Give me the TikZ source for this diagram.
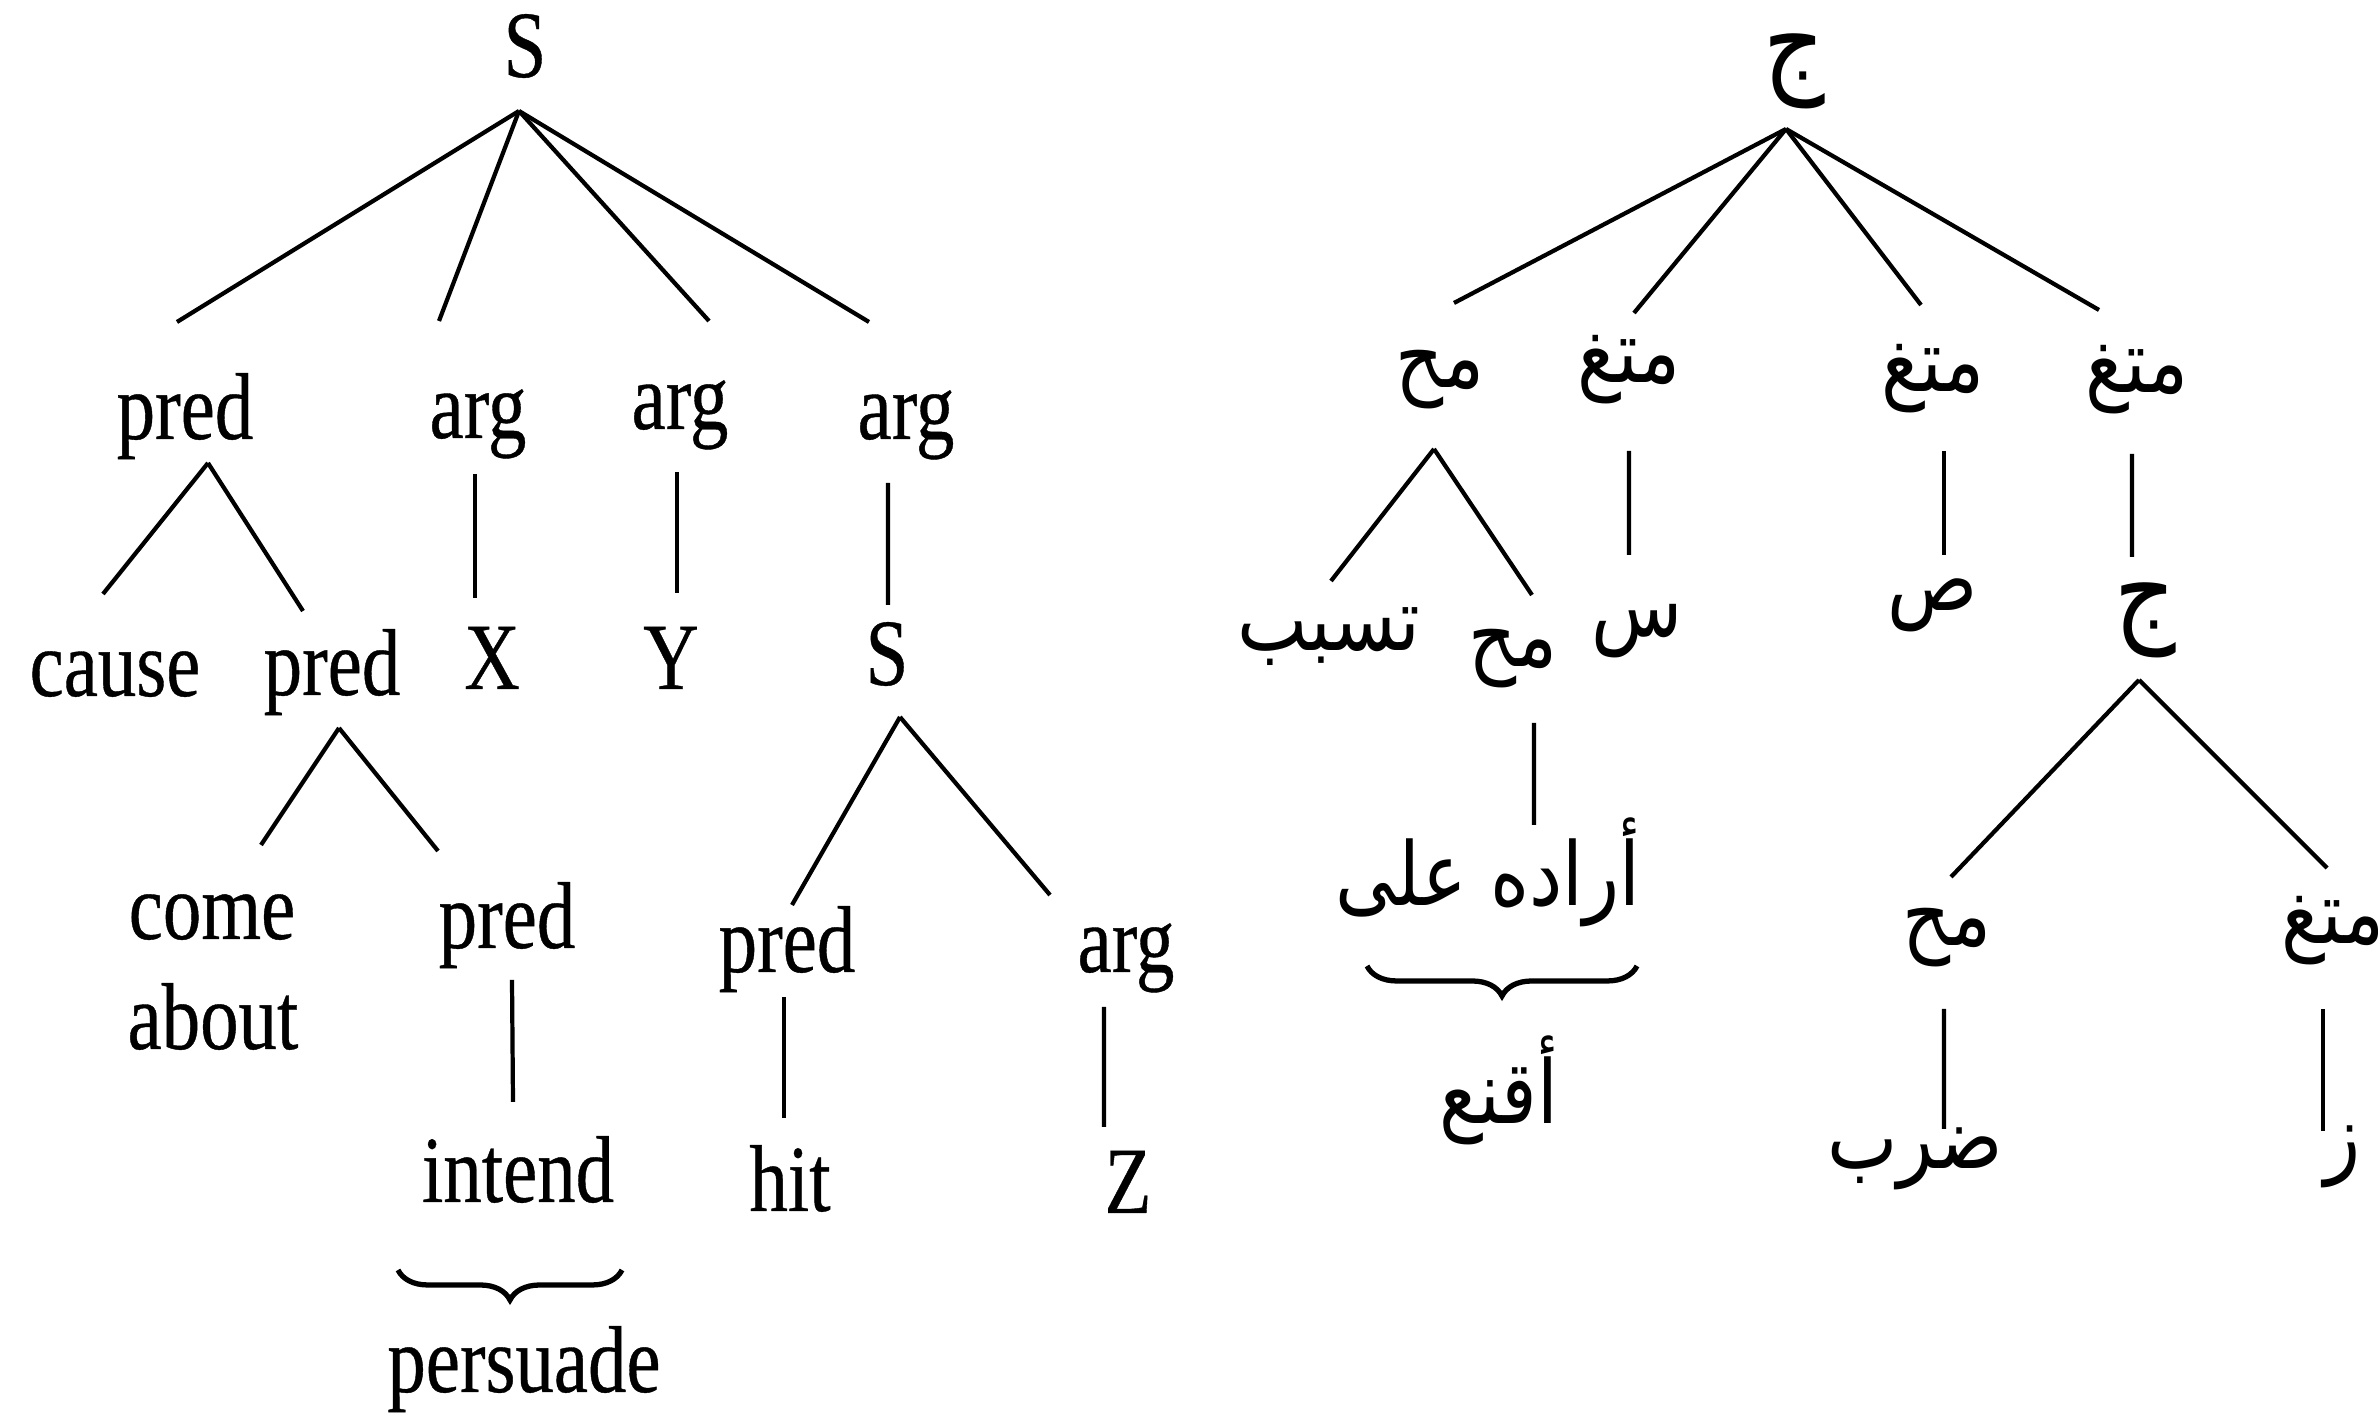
\documentclass[tikz,border=0pt]{standalone}
\usepackage{fontspec}
\setmainfont{Liberation Serif}[FakeStretch=0.81,FakeBold=0.4]
\newfontfamily\arabicfont[Script=Arabic,FakeStretch=0.85]{DejaVu Sans}
\TeXXeTstate=1
\usetikzlibrary{decorations.pathreplacing}
\newcommand{\artxt}[1]{\beginR #1\endR}
\tikzset{
  lbl/.style={anchor=base, inner sep=0pt, font=\fontsize{27pt}{31pt}\selectfont},
  arlbl/.style={inner sep=0pt, font=\fontsize{25pt}{29pt}\selectfont\arabicfont},
  jim/.style={arlbl, font=\fontsize{32pt}{36pt}\selectfont\arabicfont},
  curly/.style={decorate, decoration={brace, mirror, amplitude=3mm}, line width=1.5pt}
}
\begin{document}
\begin{tikzpicture}[line width=1.2pt]
    \useasboundingbox (0,0) rectangle (23.78,14.21);
    % english tree
    \node[lbl] (sroot) at (5.25,13.44) {S};
    \node[lbl] (predA) at (1.85,9.82) {pred};
    \node[lbl] (argA) at (4.78,9.83) {arg};
    \node[lbl] (argB) at (6.80,9.92) {arg};
    \node[lbl] (argC) at (9.06,9.82) {arg};
    \node[lbl] (cause) at (1.15,7.25) {cause};
    \node[lbl] (predB) at (3.32,7.26) {pred};
    \node[lbl] (X) at (4.92,7.32) {X};
    \node[lbl] (Y) at (6.71,7.32) {Y};
    \node[lbl] (sub) at (8.87,7.36) {S};
    \node[lbl] (come) at (2.12,4.82) {come};
    \node[lbl] (about) at (2.13,3.72) {about};
    \node[lbl] (predC) at (5.07,4.73) {pred};
    \node[lbl] (predD) at (7.87,4.49) {pred};
    \node[lbl] (argD) at (11.26,4.49) {arg};
    \node[lbl] (intend) at (5.18,2.19) {intend};
    \node[lbl] (hit) at (7.90,2.10) {hit};
    \node[lbl] (Z) at (11.28,2.08) {Z};
    \node[lbl] (persuade) at (5.24,0.29) {persuade};
    \draw ([shift={(-0.06,-0.34)}]sroot.base) -- ([shift={(-0.08,1.17)}]predA.base);
    \draw ([shift={(-0.06,-0.34)}]sroot.base) -- ([shift={(-0.39,1.17)}]argA.base);
    \draw ([shift={(-0.06,-0.34)}]sroot.base) -- ([shift={(0.29,1.08)}]argB.base);
    \draw ([shift={(-0.06,-0.34)}]sroot.base) -- ([shift={(-0.37,1.17)}]argC.base);
    \draw ([shift={(0.23,-0.24)}]predA.base) -- ([shift={(-0.12,1.02)}]cause.base);
    \draw ([shift={(0.23,-0.24)}]predA.base) -- ([shift={(-0.29,0.84)}]predB.base);
    \draw ([shift={(-0.03,-0.36)}]argA.base) -- ([shift={(-0.17,0.91)}]X.base);
    \draw ([shift={(-0.03,-0.43)}]argB.base) -- ([shift={(0.06,0.96)}]Y.base);
    \draw ([shift={(-0.18,-0.44)}]argC.base) -- ([shift={(0.01,0.80)}]sub.base);
    \draw ([shift={(0.07,-0.33)}]predB.base) -- ([shift={(0.49,0.94)}]come.base);
    \draw ([shift={(0.07,-0.33)}]predB.base) -- ([shift={(-0.69,0.97)}]predC.base);
    \draw ([shift={(0.05,-0.32)}]predC.base) -- ([shift={(-0.05,1.00)}]intend.base);
    \draw ([shift={(0.13,-0.32)}]sub.base) -- ([shift={(0.05,0.67)}]predD.base);
    \draw ([shift={(0.13,-0.32)}]sub.base) -- ([shift={(-0.76,0.77)}]argD.base);
    \draw ([shift={(-0.03,-0.25)}]predD.base) -- ([shift={(-0.06,0.93)}]hit.base);
    \draw ([shift={(-0.22,-0.35)}]argD.base) -- ([shift={(-0.24,0.86)}]Z.base);
    \draw[curly] ([shift={(-1.20,-0.68)}]intend.base) -- ([shift={(1.04,-0.68)}]intend.base);
    % arabic tree
    \node[jim] (jroot) at (17.94,13.50) {\artxt{ج}};
    \node[arlbl] (mahA) at (14.40,10.41) {\artxt{مح}};
    \node[arlbl] (mutA) at (16.29,10.51) {\artxt{متغ}};
    \node[arlbl] (mutB) at (19.33,10.42) {\artxt{متغ}};
    \node[arlbl] (mutC) at (21.37,10.41) {\artxt{متغ}};
    \node[arlbl] (tasbib) at (13.29,7.84) {\artxt{تسبب}};
    \node[arlbl] (mahB) at (15.13,7.62) {\artxt{مح}};
    \node[arlbl] (sin) at (16.37,7.90) {\artxt{س}};
    \node[arlbl] (sad) at (19.33,8.16) {\artxt{ص}};
    \node[jim] (jsub) at (21.45,8.01) {\artxt{ج}};
    \node[arlbl] (arada) at (14.88,5.49) {\artxt{أراده على}};
    \node[arlbl] (aqnaa) at (14.99,3.31) {\artxt{أقنع}};
    \node[arlbl] (mahC) at (19.47,4.83) {\artxt{مح}};
    \node[arlbl] (mutD) at (23.33,4.90) {\artxt{متغ}};
    \node[arlbl] (daraba) at (19.15,2.62) {\artxt{ضرب}};
    \node[arlbl] (zay) at (23.43,2.64) {\artxt{ز}};
    \draw ([shift={(-0.08,-0.58)}]jroot.center) -- ([shift={(0.14,0.77)}]mahA.center);
    \draw ([shift={(-0.08,-0.58)}]jroot.center) -- ([shift={(0.05,0.57)}]mutA.center);
    \draw ([shift={(-0.08,-0.58)}]jroot.center) -- ([shift={(-0.12,0.74)}]mutB.center);
    \draw ([shift={(-0.08,-0.58)}]jroot.center) -- ([shift={(-0.38,0.70)}]mutC.center);
    \draw ([shift={(-0.06,-0.69)}]mahA.center) -- ([shift={(0.02,0.56)}]tasbib.center);
    \draw ([shift={(-0.06,-0.69)}]mahA.center) -- ([shift={(0.19,0.64)}]mahB.center);
    \draw ([shift={(0.00,-0.81)}]mutA.center) -- ([shift={(-0.08,0.76)}]sin.center);
    \draw ([shift={(0.11,-0.72)}]mutB.center) -- ([shift={(0.11,0.50)}]sad.center);
    \draw ([shift={(-0.05,-0.74)}]mutC.center) -- ([shift={(-0.13,0.63)}]jsub.center);
    \draw ([shift={(0.21,-0.64)}]mahB.center) -- ([shift={(0.46,0.47)}]arada.center);
    \draw ([shift={(-0.06,-0.60)}]jsub.center) -- ([shift={(0.04,0.61)}]mahC.center);
    \draw ([shift={(-0.06,-0.60)}]jsub.center) -- ([shift={(-0.06,0.63)}]mutD.center);
    \draw ([shift={(-0.03,-0.71)}]mahC.center) -- ([shift={(0.29,0.30)}]daraba.center);
    \draw ([shift={(-0.10,-0.78)}]mutD.center) -- ([shift={(-0.20,0.26)}]zay.center);
    \draw[curly] ([shift={(-1.21,-0.94)}]arada.center) -- ([shift={(1.49,-0.94)}]arada.center);
\end{tikzpicture}
\end{document}
